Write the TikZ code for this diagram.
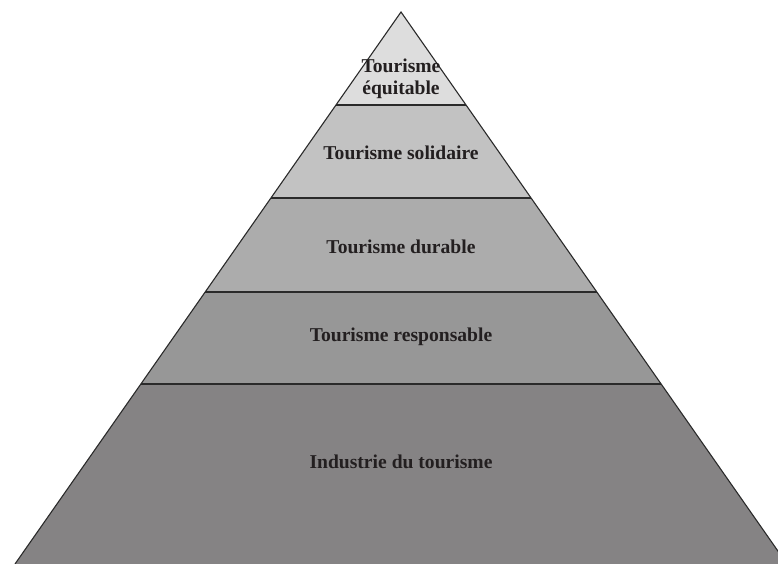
\documentclass[tikz,border=0pt]{standalone}
\usepackage{fontspec}
\setmainfont{Liberation Serif}
\usetikzlibrary{positioning}
\definecolor{lvlA}{HTML}{DDDDDD}
\definecolor{lvlB}{HTML}{C2C2C2}
\definecolor{lvlC}{HTML}{ACACAC}
\definecolor{lvlD}{HTML}{979797}
\definecolor{lvlE}{HTML}{858384}
\definecolor{inkdark}{HTML}{231F20}
\definecolor{edgegray}{HTML}{2A2A2A}
\tikzset{level/.style={font=\bfseries\fontsize{19.6}{22}\selectfont,text=inkdark,align=center}}
\tikzset{edge/.style={draw=edgegray,line width=1.1pt}}

\begin{document}
\begin{tikzpicture}[x=1pt,y=-1pt]
		\useasboundingbox (0,0) rectangle (778,564);
		\clip (0,0) rectangle (778,564);

		\coordinate (apex) at (401,12);
		\coordinate (l1) at (336,105);
		\coordinate (r1) at (466,105);
		\coordinate (l2) at (271,198);
		\coordinate (r2) at (531,198);
		\coordinate (l3) at (205,292);
		\coordinate (r3) at (597,292);
		\coordinate (l4) at (141,384);
		\coordinate (r4) at (661,384);
		\coordinate (l5) at (15,564);
		\coordinate (r5) at (787,564);

		% layers
		\fill[lvlA] (apex) -- (r1) -- (l1) -- cycle;
		\fill[lvlB] (l1) -- (r1) -- (r2) -- (l2) -- cycle;
		\fill[lvlC] (l2) -- (r2) -- (r3) -- (l3) -- cycle;
		\fill[lvlD] (l3) -- (r3) -- (r4) -- (l4) -- cycle;
		\fill[lvlE] (l4) -- (r4) -- (r5) -- (l5) -- cycle;

		\draw[edge] (l1) -- (r1);
		\draw[edge] (l2) -- (r2);
		\draw[edge] (l3) -- (r3);
		\draw[edge] (l4) -- (r4);
		\draw[edge] (l5) -- (apex) -- (r5);

		\node[level](equitable) at (401,79){Tourisme\\équitable};
		\node[level](solidaire) at (401,153){Tourisme solidaire};
		\node[level](durable) at (401,247){Tourisme durable};
		\node[level](responsable) at (401,337){Tourisme responsable};
		\node[level](industrie) at (401,462){Industrie du tourisme};
	\end{tikzpicture}
\end{document}
